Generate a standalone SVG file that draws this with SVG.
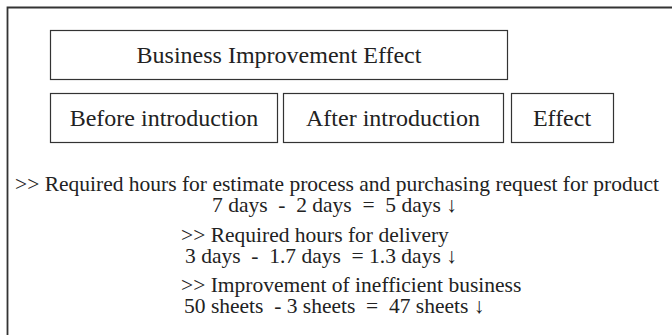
<svg xmlns="http://www.w3.org/2000/svg" width="672" height="335" viewBox="0 0 672 335">
<style>
.box{fill:#fff;stroke:#333;stroke-width:1.2}
.t{font-family:"Liberation Serif","Times New Roman",serif;fill:#222;white-space:pre}
.h{font-size:24px;text-anchor:middle}
.l{font-size:21.5px}
</style>
<rect width="672" height="335" fill="#fff"/>
<path d="M7.5,335 V7.5 H672" fill="none" stroke="#333" stroke-width="1.8"/>
<g id="title"><rect class="box" x="50.5" y="30.5" width="457" height="49"/><text class="t h" x="279" y="63">Business Improvement Effect</text></g>
<g id="before"><rect class="box" x="50.5" y="93.5" width="227" height="49"/><text class="t h" x="164" y="126">Before introduction</text></g>
<g id="after"><rect class="box" x="283.5" y="93.5" width="220" height="49"/><text class="t h" x="393" y="126">After introduction</text></g>
<g id="effect"><rect class="box" x="511.5" y="93.5" width="102" height="49"/><text class="t h" x="562" y="126">Effect</text></g>
<g id="connectors"></g>
<g id="notes">
<text class="t l" x="15" y="191">&gt;&gt; Required hours for estimate process and purchasing request for product</text>
<text class="t l" x="212" y="212">7 days  -  2 days  =  5 days ↓</text>
<text class="t l" x="181" y="242">&gt;&gt; Required hours for delivery</text>
<text class="t l" x="185" y="263">3 days  -  1.7 days  = 1.3 days ↓</text>
<text class="t l" x="181" y="292">&gt;&gt; Improvement of inefficient business</text>
<text class="t l" x="184" y="313">50 sheets  - 3 sheets  =  47 sheets ↓</text>
</g>
</svg>
